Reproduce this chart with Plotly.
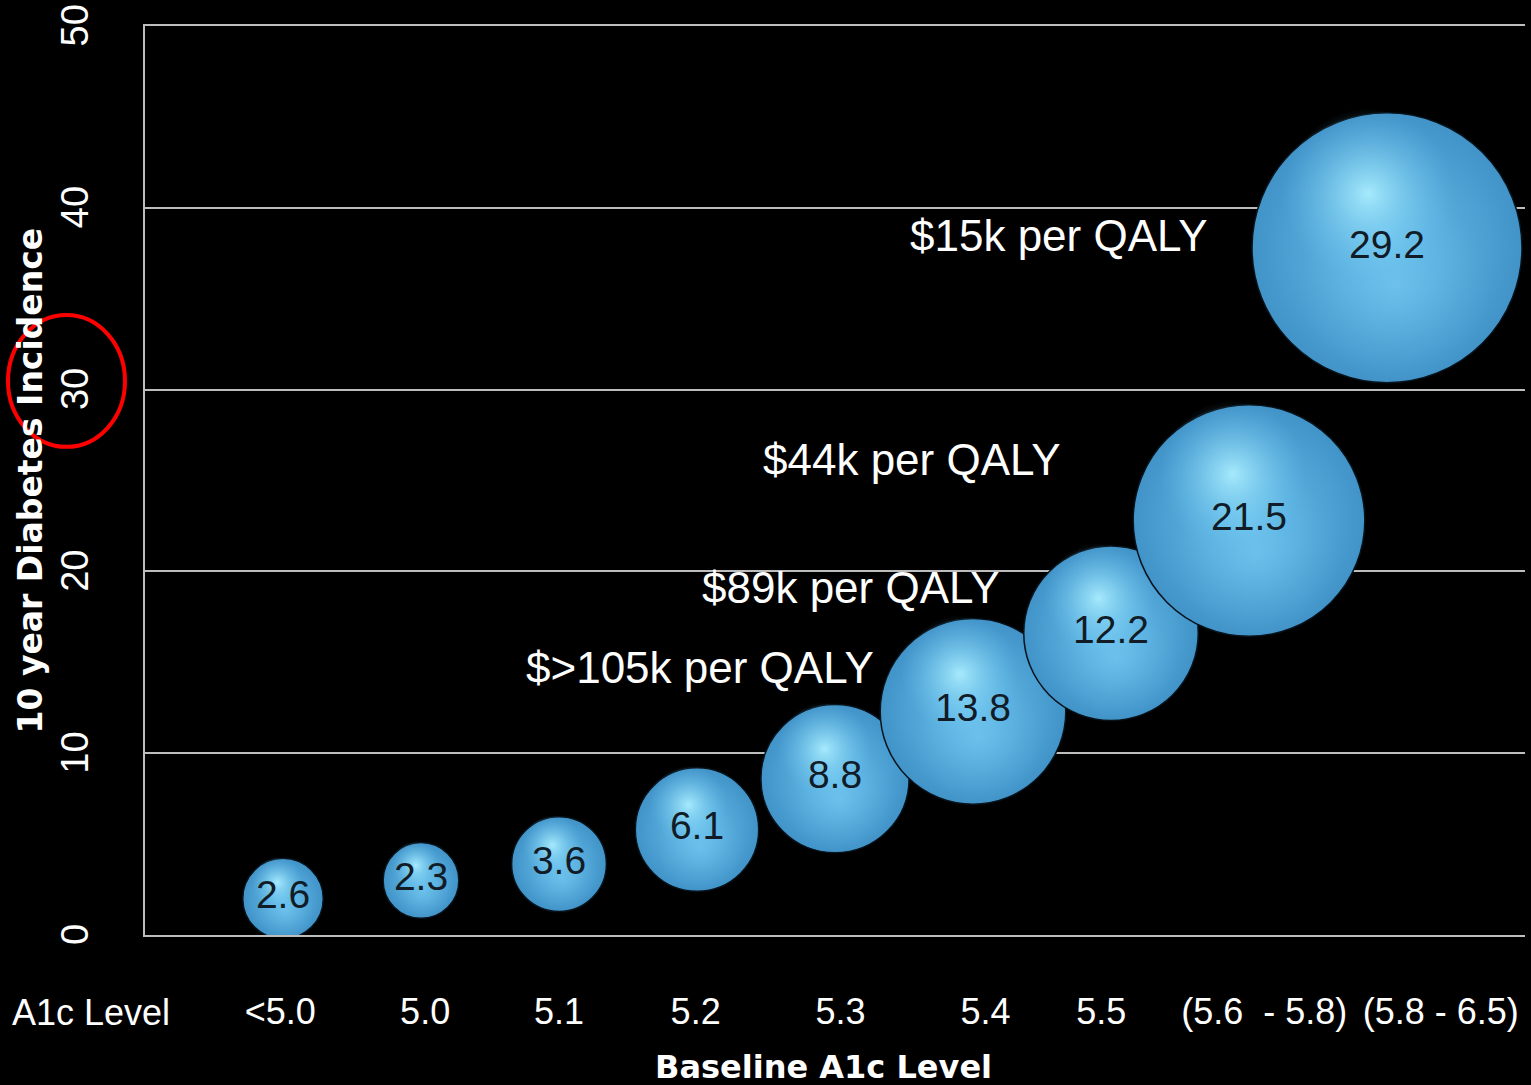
import plotly.graph_objects as go

# A1c categories along the x axis
categories = ["<5.0", "5.0", "5.1", "5.2", "5.3", "5.4", "5.5", "(5.6  - 5.8)", "(5.8 - 6.5)"]
# 10-year diabetes incidence (%) shown on each bubble; also sets bubble area
incidence = [2.6, 2.3, 3.6, 6.1, 8.8, 13.8, 12.2, 21.5, 29.2]
# vertical placement of each bubble on the incidence axis
bubble_y = [2.0, 3.0, 3.9, 5.8, 8.6, 12.3, 16.6, 22.8, 37.8]
# cost-effectiveness call-outs
qaly_text = ["$15k per QALY", "$44k per QALY", "$89k per QALY", "$>105k per QALY"]

NARROW = "Liberation Sans Narrow, Arial Narrow, Liberation Sans, Arial, sans-serif"
BOLD = "DejaVu Sans, Verdana, sans-serif"

W, H = 1531, 1085
ML, MR, MT, MB = 145, 6, 26, 150
plot_w = W - ML - MR
plot_h = H - MT - MB
X_RANGE = [0, 10]
Y_RANGE = [0, 50]
px_x = plot_w / (X_RANGE[1] - X_RANGE[0])
px_y = plot_h / (Y_RANGE[1] - Y_RANGE[0])

MAX_D = 270.0
sizeref = 2.0 * max(incidence) / MAX_D ** 2

xs = list(range(1, len(categories) + 1))

fig = go.Figure()

for x, y, v in zip(xs, bubble_y, incidence):
    d = (2.0 * v / sizeref) ** 0.5
    # sphere body: light centre fading to a deeper blue rim
    fig.add_trace(go.Scatter(
        x=[x], y=[y], mode="markers", hoverinfo="skip", showlegend=False,
        marker=dict(size=[v], sizemode="area", sizeref=sizeref, opacity=1,
                    color="#4193c8",
                    gradient=dict(type="radial", color="#69c2ed"),
                    line=dict(color="#08131c", width=1.5)),
    ))
    # soft lower band of reflected light
    fig.add_trace(go.Scatter(
        x=[x + 0.03 * d / px_x], y=[y - 0.14 * d / px_y], mode="markers",
        hoverinfo="skip", showlegend=False,
        marker=dict(size=[v * 0.5], sizemode="area", sizeref=sizeref, opacity=1,
                    color="rgba(95,180,228,0)",
                    gradient=dict(type="radial", color="rgba(118,200,240,0.6)"),
                    line=dict(width=0)),
    ))
    # specular highlight, up and to the left of centre
    fig.add_trace(go.Scatter(
        x=[x - 0.07 * d / px_x], y=[y + 0.2 * d / px_y], mode="markers",
        hoverinfo="skip", showlegend=False,
        marker=dict(size=[v * 0.4], sizemode="area", sizeref=sizeref, opacity=1,
                    color="rgba(105,192,236,0)",
                    gradient=dict(type="radial", color="rgba(175,240,255,0.9)"),
                    line=dict(width=0)),
    ))

fig.add_trace(go.Scatter(
    x=xs, y=bubble_y, mode="text", text=[f"{v:.1f}" for v in incidence],
    textposition="middle center", hoverinfo="skip", showlegend=False,
    textfont=dict(family=NARROW, size=39, color="#111c27"),
))

annotations = []
qaly_pos = [(6.625, 38.45), (5.559, 26.18), (5.116, 19.09), (4.02, 14.69)]
for t, (ax, ay) in zip(qaly_text, qaly_pos):
    annotations.append(dict(x=ax, y=ay, xref="x", yref="y", text=t, showarrow=False,
                            xanchor="center", yanchor="middle",
                            font=dict(family=NARROW, size=44, color="white")))

annotations.append(dict(x=(91 - ML) / plot_w, y=-(1012 - (MT + plot_h)) / plot_h,
                        xref="paper", yref="paper", text="A1c Level", showarrow=False,
                        xanchor="center", yanchor="middle",
                        font=dict(family=NARROW, size=36, color="white")))
annotations.append(dict(x=(823 - ML) / plot_w, y=-(1067 - (MT + plot_h)) / plot_h,
                        xref="paper", yref="paper", text="<b>Baseline A1c Level</b>",
                        showarrow=False, xanchor="center", yanchor="middle",
                        font=dict(family=BOLD, size=32, color="white")))
annotations.append(dict(x=(30 - ML) / plot_w, y=0.5, xref="paper", yref="paper",
                        text="<b>10 year Diabetes Incidence</b>", textangle=-90,
                        showarrow=False, xanchor="center", yanchor="middle",
                        font=dict(family=BOLD, size=33, color="white")))

label_x = [0.98, 2.03, 3.0, 3.99, 5.04, 6.09, 6.93, 8.11, 9.39]

fig.update_layout(
    width=W, height=H,
    margin=dict(l=ML, r=MR, t=MT, b=MB, autoexpand=False),
    paper_bgcolor="black", plot_bgcolor="black",
    annotations=annotations,
    shapes=[dict(type="circle", xref="paper", yref="y",
                 x0=(8 - ML) / plot_w, x1=(125 - ML) / plot_w,
                 y0=26.85, y1=34.1, line=dict(color="#ff0000", width=4),
                 layer="above")],
    xaxis=dict(range=X_RANGE, showgrid=False, zeroline=False, automargin=False,
               showline=True, mirror=True, linecolor="#bdbdbd", linewidth=1.5,
               tickmode="array", tickvals=label_x, ticktext=categories,
               tickangle=0, ticks="", ticklabelstandoff=44,
               ticklabeloverflow="allow",
               tickfont=dict(family=NARROW, size=36, color="white")),
    yaxis=dict(range=Y_RANGE, tickmode="array", tickvals=[0, 10, 20, 30, 40, 50],
               automargin=False, showgrid=True, gridcolor="#bdbdbd",
               gridwidth=1.5, zeroline=True, zerolinecolor="#bdbdbd",
               zerolinewidth=1.5, showline=True, linecolor="#bdbdbd", linewidth=1.5,
               tickangle=-90, ticks="", ticklabelstandoff=40, ticklabelshift=5,
               ticklabeloverflow="allow",
               tickfont=dict(family=NARROW, size=38, color="white")),
)

fig.write_html("out.html")
